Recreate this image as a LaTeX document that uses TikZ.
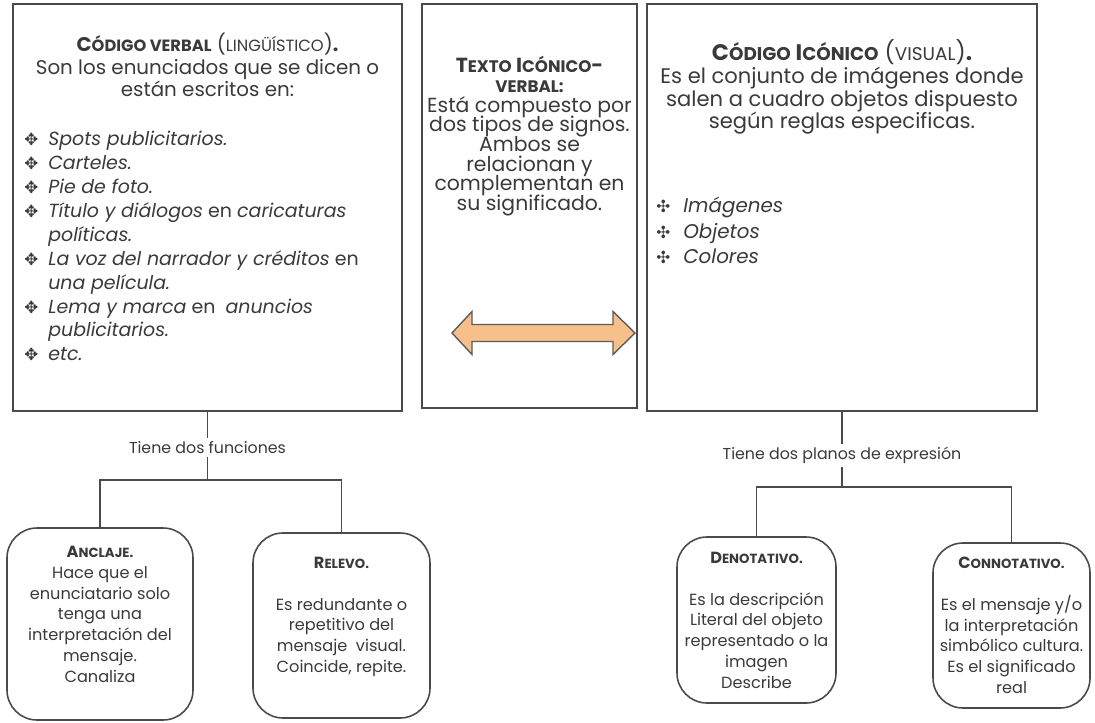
\documentclass[tikz,border=0pt]{standalone}
\usepackage{fontspec}
\setmainfont{Poppins}
\newfontfamily\symfont{DejaVu Sans}
\usepackage{graphicx}
\usetikzlibrary{positioning}
\definecolor{clrText}{HTML}{3A3A3A}
\definecolor{clrBorders}{HTML}{4A4A4A}
\definecolor{clrArrow}{HTML}{F7C08A}
\def\px{0.02cm}
\newcommand{\fsc}[1]{\scalebox{0.82}{#1}}
\newcommand{\apretado}{\lineskiplimit=-6pt\relax}
\newcommand{\vina}{\makebox[0.48cm][l]{\symfont\fontsize{9.5}{9.5}\selectfont ✥}}
\newcommand{\vinb}{\makebox[0.54cm][l]{\symfont\fontsize{9.5}{9.5}\selectfont ✣}}
\tikzstyle{panel}=[draw=clrBorders, line width=0.8pt, inner sep=0pt]
\tikzstyle{caja}=[draw=clrBorders, line width=0.9pt, rounded corners=0.6cm, inner sep=0pt]
\tikzstyle{texto}=[text=clrText, inner sep=0pt, align=center, font=\fontsize{11.3}{12.8}\selectfont]
\tikzstyle{lista}=[text=clrText, inner sep=0pt, align=left, font=\fontsize{10.8}{13.6}\selectfont]
\tikzstyle{nota}=[text=clrText, inner sep=0pt, align=center, font=\fontsize{9.2}{11.8}\selectfont]
\tikzstyle{etiqueta}=[fill=white, text=clrText, inner sep=2pt, font=\fontsize{9}{10}\selectfont]
\tikzstyle{linea}=[draw=clrBorders, line width=0.8pt]
\tikzstyle{flecha}=[draw=clrBorders!90, fill=clrArrow, line width=0.8pt, line join=miter]

\begin{document}
\begin{tikzpicture}[x=\px, y=-\px]
	\useasboundingbox (0,0) rectangle (1095,723);

	% los tres cuadros de arriba
	\node[panel, minimum width=389*\px, minimum height=407*\px] (verbal) at (207.5,207.5) {};
	\node[panel, minimum width=215*\px, minimum height=404*\px] (mixto) at (529.5,206) {};
	\node[panel, minimum width=390*\px, minimum height=407*\px] (iconico) at (842,207.5) {};

	\node[texto, anchor=north] (verbalT) at (207.5,33) {\textbf{C\fsc{ÓDIGO VERBAL}} (\fsc{LINGÜÍSTICO})\textbf{.}\\Son los enunciados que se dicen o\\están escritos en:};
	\node[lista, anchor=north west] (verbalL) at (24,131) {\vina\textit{Spots publicitarios.}\\
		\vina\textit{Carteles.}\\
		\vina\textit{Pie de foto.}\\
		\vina\textit{Título y diálogos} en \textit{caricaturas}\\
		\hspace*{0.48cm}\textit{políticas.}\\
		\vina\textit{La voz del narrador y créditos} en\\
		\hspace*{0.48cm}\textit{una película.}\\
		\vina\textit{Lema y marca} en \ \textit{anuncios}\\
		\hspace*{0.48cm}\textit{publicitarios.}\\
		\vina\textit{etc.}};

	\node[texto, anchor=north, font=\fontsize{11.6}{11.2}\selectfont\apretado] (mixtoT) at (529.5,56) {\textbf{T\fsc{EXTO} I\fsc{CÓNICO}-}\\\textbf{\fsc{VERBAL:}}\\Está compuesto por\\dos tipos de signos.\\Ambos se\\relacionan y\\complementan en\\su significado.};
	\draw[flecha] (452,333) -- (472,311.5) -- (472,324.5) -- (613,324.5) -- (613,311.5) -- (635,333) -- (613,354.5) -- (613,341.5) -- (472,341.5) -- (472,354.5) -- cycle;

	\node[texto, anchor=north, font=\fontsize{12}{13}\selectfont\apretado] (iconicoT) at (842,39) {{\fontsize{12.8}{13}\selectfont\textbf{C\fsc{ÓDIGO} I\fsc{CÓNICO}} (\fsc{VISUAL})\textbf{.}}\\Es el conjunto de imágenes donde\\salen a cuadro objetos dispuesto\\según reglas especificas.};
	\node[lista, anchor=north west, font=\fontsize{11.3}{14.5}\selectfont] (iconicoL) at (656,197) {\vinb\textit{Imágenes}\\\vinb\textit{Objetos}\\\vinb\textit{Colores}};

	% cajas de abajo
	\node[caja, minimum width=186*\px, minimum height=192*\px] (anclaje) at (100,624) {};
	\node[caja, minimum width=177*\px, minimum height=185*\px] (relevo) at (341.5,625.5) {};
	\node[caja, minimum width=159*\px, minimum height=166*\px] (denotativo) at (756.5,620) {};
	\node[caja, minimum width=157*\px, minimum height=165*\px] (connotativo) at (1011.5,625.5) {};

	\node[nota, anchor=north] (anclajeT) at (100,546) {\textbf{A\fsc{NCLAJE.}}\\Hace que el\\enunciatario solo\\tenga una\\interpretación del\\mensaje.\\Canaliza};
	\node[nota, anchor=north] (relevoT) at (341.5,557) {\textbf{R\fsc{ELEVO.}}\\[11.8pt]Es redundante o\\repetitivo del\\mensaje \ visual.\\Coincide, repite.};
	\node[nota, anchor=north] (denotativoT) at (756.5,552) {\textbf{D\fsc{ENOTATIVO.}}\\[11.8pt]Es la descripción\\Literal del objeto\\representado o la\\imagen\\Describe};
	\node[nota, anchor=north] (connotativoT) at (1011.5,557) {\textbf{C\fsc{ONNOTATIVO.}}\\[11.8pt]Es el mensaje y/o\\la interpretación\\simbólico cultura.\\Es el significado\\real};

	% conectores
	\coordinate (jv) at (207.5,480);
	\coordinate (ji) at (842,487);
	\draw[linea] (verbal.south) -- node[etiqueta, pos=0.52] (funciones) {Tiene dos funciones} (jv);
	\draw[linea] (anclaje.north) |- (jv) -| (relevo.north);
	\draw[linea] (iconico.south) -- node[etiqueta, pos=0.58] (planos) {Tiene dos planos de expresión} (ji);
	\draw[linea] (denotativo.north) |- (ji) -| (connotativo.north);
\end{tikzpicture}
\end{document}
